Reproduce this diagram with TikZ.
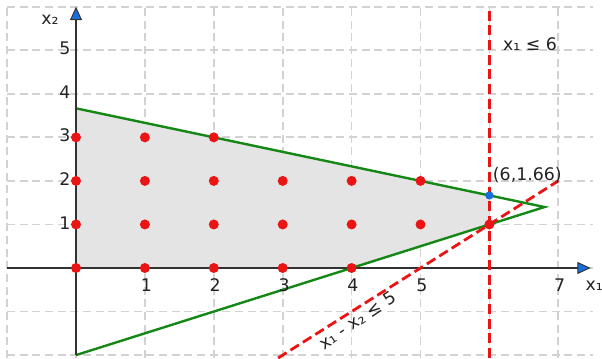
\documentclass[tikz,border=0pt]{standalone}
\usepackage{fontspec}
\setmainfont{DejaVu Sans}
\usetikzlibrary{arrows.meta}
\definecolor{gridc}{RGB}{210,210,210}
\definecolor{fillc}{RGB}{228,228,228}
\definecolor{greenc}{RGB}{20,135,20}
\definecolor{redc}{RGB}{235,20,20}
\definecolor{bluec}{RGB}{25,110,220}
\definecolor{axisc}{RGB}{50,50,50}
\definecolor{textc}{RGB}{35,35,35}
\tikzset{
  gridline/.style={draw=gridc, line width=1.3pt, dash pattern=on 6pt off 3.5pt},
  greenline/.style={draw=greenc, line width=1.8pt, line join=miter},
  reddash/.style={draw=redc, line width=2.1pt, dash pattern=on 7.5pt off 3.5pt},
  axisline/.style={draw=axisc, line width=1.6pt, -{Triangle[length=10pt,width=9pt,fill=bluec,line width=0.7pt]}},
  reddot/.style={circle, fill=redc, inner sep=0pt, minimum size=7.5pt},
  bluedot/.style={circle, fill=bluec, inner sep=0pt, minimum size=6.2pt},
  lbl/.style={text=textc, font=\fontsize{13}{15}\selectfont, inner sep=0pt},
}
\begin{document}
\begin{tikzpicture}[x=51.675pt, y=32.66pt]
\useasboundingbox (-1.103,-2.067) rectangle (7.634,6.154);
% grid
\foreach \gx in {-1,...,7}
  \draw[gridline] (\gx,-2.067) -- (\gx,6);
\foreach \gy in {-2,...,6}
  \draw[gridline] (-1,\gy) -- (7.5,\gy);
% coordinates
\coordinate (O) at (0,0);
\coordinate (A) at (0,11/3);
\coordinate (P) at (6,5/3);
\coordinate (Q) at (6,1);
\coordinate (R) at (4,0);
\coordinate (T) at (6.8,1.4);
\coordinate (B) at (0,-2);
\coordinate (V1) at (6,-2.067);
\coordinate (V2) at (6,6);
\coordinate (D1) at (2.933,-2.067);
\coordinate (D2) at (7,2);
\coordinate (XL) at (-1,0);
\coordinate (XR) at (7.47,0);
\coordinate (YB) at (0,-2);
\coordinate (YT) at (0,6);
% feasible region
\fill[fillc] (O) -- (A) -- (P) -- (Q) -- (R) -- cycle;
% green triangle
\draw[greenline] (A) -- (T) -- (B);
% axes
\draw[axisline] (XL) -- (XR);
\draw[axisline] (YB) -- (YT);
% red dashed constraints
\draw[reddash] (V1) -- (V2);
\draw[reddash] (D1) -- (D2);
% lattice points
\foreach \px/\py in {0/0,0/1,0/2,0/3,1/0,1/1,1/2,1/3,2/0,2/1,2/2,2/3,3/0,3/1,3/2,4/0,4/1,4/2,5/1,5/2,6/1}
  \node[reddot] (d\px\py) at (\px,\py) {};
\node[bluedot] (opt) at (P) {};
% tick labels
\foreach \k in {1,2,3,4,5,7}
  \node[lbl] (tx\k) at (\k+0.02,-0.4) {\k};
\foreach \k in {1,2,3,4,5}
  \node[lbl] (ty\k) at (-0.16,\k+0.04) {\k};
% axis labels
\node[lbl] (x2lab) at (-0.377,5.69) {x₂};
\node[lbl] (x1lab) at (7.52,-0.4) {x₁};
% constraint labels
\node[lbl] (c1) at (6.59,5.14) {x₁ ≤ 6};
\node[lbl] (optlab) at (6.55,2.13) {(6,1.66)};
\node[lbl, rotate=34] (c2) at (4.08,-1.2) {x₁ - x₂ ≤ 5};
\end{tikzpicture}
\end{document}
